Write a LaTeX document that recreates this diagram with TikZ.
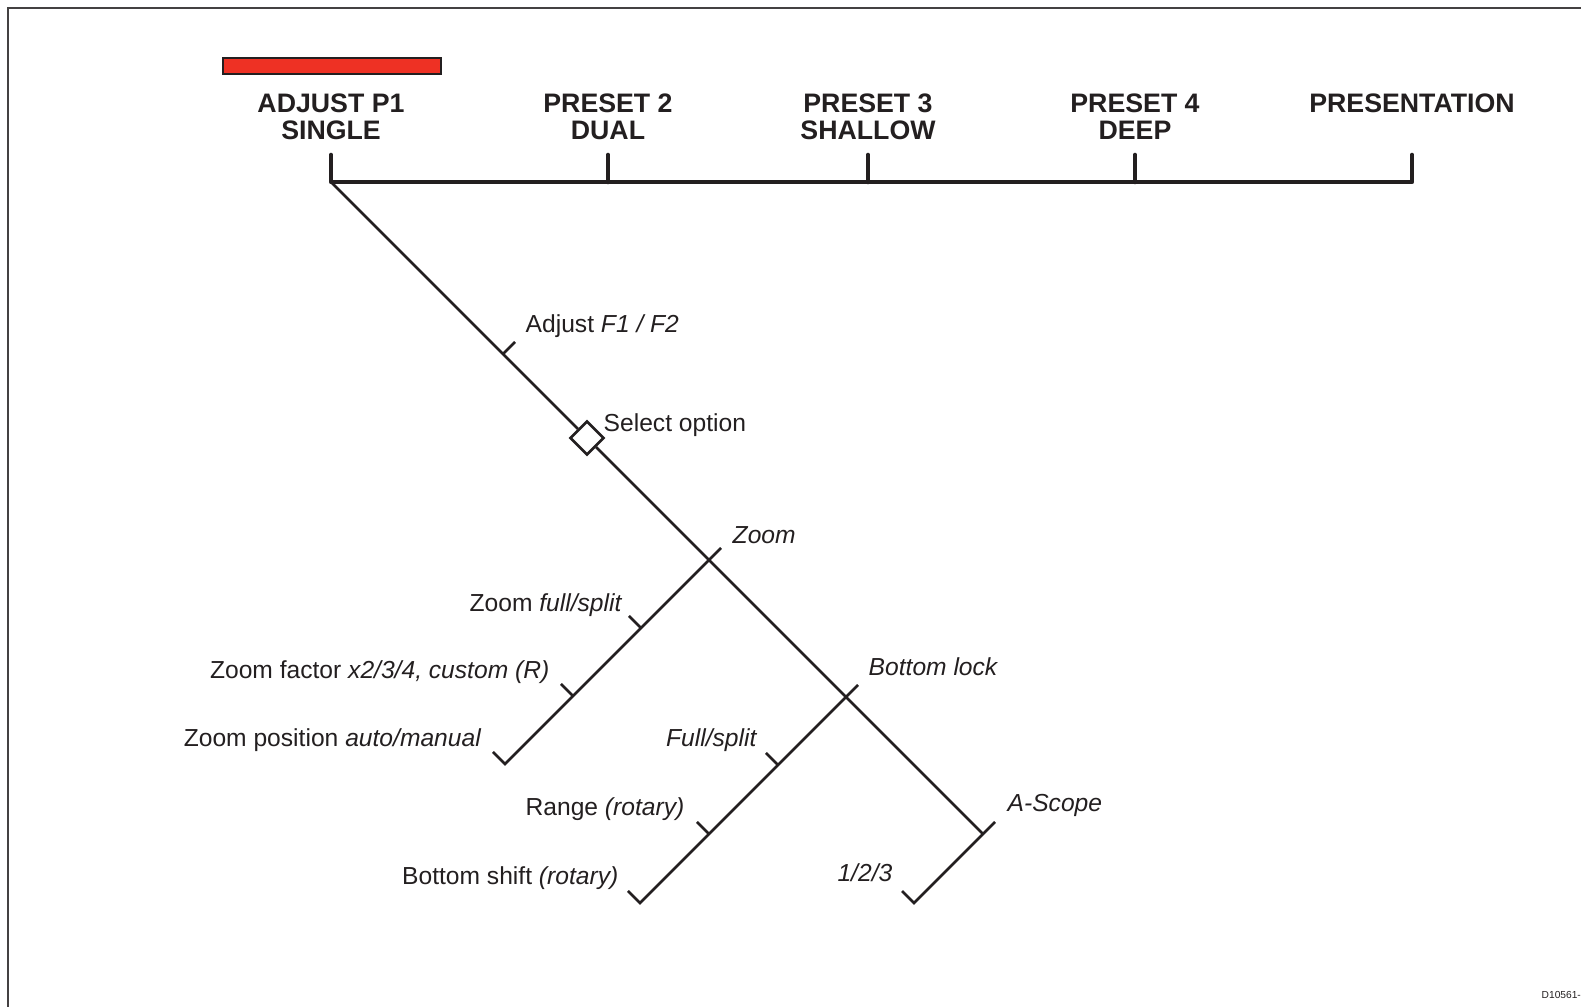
\documentclass[tikz,border=0pt]{standalone}
\usepackage{fontspec}
\setmainfont{Liberation Sans}
\usetikzlibrary{calc,positioning,shapes.geometric}
\definecolor{ink}{RGB}{35,31,32}
\definecolor{barRed}{RGB}{238,49,36}

\begin{document}
\begin{tikzpicture}[x=0.01cm, y=-0.01cm, line join=miter,
  every node/.style={inner sep=0pt, text=ink, font=\fontsize{7}{8}\selectfont},
  menu/.style={font=\fontsize{7.6}{7.7}\selectfont\bfseries, align=center, anchor=north},
  rail/.style={draw=ink, line width=1.3pt, line cap=round, line join=round},
  branch/.style={draw=ink, line width=0.75pt},
  selbox/.style={diamond, draw=ink, fill=white, line width=0.75pt, aspect=1,
    minimum width=0.34cm, minimum height=0.34cm},
  optl/.style={anchor=base east},
  optr/.style={anchor=base west}]
  \useasboundingbox (0,0) rectangle (1581,1007);
  \draw[ink!85, line width=0.6pt] (8,1007) -- (8,8) -- (1581,8);
  \filldraw[fill=barRed, draw=ink, line width=0.3pt] (223,58) rectangle (441,74);

  % presets
  \foreach \n/\x in {1/331, 2/608, 3/868, 4/1135, 5/1412} {
    \coordinate (p\n) at (\x,182);
    \coordinate (t\n) at (\x,155);
  }
  \draw[rail] (t1) -- (p1) -- (p5) -- (t5);
  \foreach \n in {2,3,4} \draw[rail] (t\n) -- (p\n);
  \node[menu] (m1) at (331,93) {ADJUST P1\\SINGLE};
  \node[menu] (m2) at (608,93) {PRESET 2\\DUAL};
  \node[menu] (m3) at (868,93) {PRESET 3\\SHALLOW};
  \node[menu] (m4) at (1135,93) {PRESET 4\\DEEP};
  \node[menu] (m5) at (1412,93) {PRESENTATION};

  % adjust menu
  \coordinate (adj)   at (503,354);
  \node[selbox] (sel) at (587,438) {};
  \coordinate (zoom)  at (709,560);
  \coordinate (blk)   at (846,697);
  \coordinate (scope) at (983,834);
  \coordinate (zfull)  at (641,628);
  \coordinate (zfac)   at (573,696);
  \coordinate (zpos)   at (505,764);
  \coordinate (bfull)  at (778,765);
  \coordinate (brange) at (709,834);
  \coordinate (bshift) at (640,903);
  \coordinate (anum)   at (914,903);

  \draw[branch] (p1) -- (sel);
  \draw[branch] (sel) -- (scope);
  \draw[branch] (adj) -- ++(12,-12);
  \draw[branch] ($(zoom)+(12,-12)$) -- (zpos) -- ++(-12,-12);
  \draw[branch] ($(blk)+(12,-12)$) -- (bshift) -- ++(-12,-12);
  \draw[branch] ($(scope)+(12,-12)$) -- (anum) -- ++(-12,-12);
  \foreach \c in {zfull,zfac,bfull,brange} \draw[branch] (\c) -- ++(-12,-12);

  \node[optr] (ladj)   at (525,333) {Adjust \textit{F1 / F2}};
  \node[optr] (lsel)   at (603,432) {Select option};
  \node[optr] (lzoom)  at (732,544) {\textit{Zoom}};
  \node[optl] (lzfull) at (623,612) {Zoom \textit{full/split}};
  \node[optl] (lzfac)  at (550,679) {Zoom factor \textit{x2/3/4, custom (R)}};
  \node[optl] (lzpos)  at (482,747) {Zoom position \textit{auto/manual}};
  \node[optr] (lblk)   at (868,676) {\textit{Bottom lock}};
  \node[optl] (lbfull) at (758,747) {\textit{Full/split}};
  \node[optl] (lrange) at (685,816) {Range \textit{(rotary)}};
  \node[optl] (lshift) at (619,885) {Bottom shift \textit{(rotary)}};
  \node[optr] (lscope) at (1007,812) {\textit{A-Scope}};
  \node[optl] (lnum)   at (893,882) {\textit{1/2/3}};
  \node[optr, font=\fontsize{2.9}{3.5}\selectfont] (code) at (1541,999) {D10561-};
\end{tikzpicture}
\end{document}
